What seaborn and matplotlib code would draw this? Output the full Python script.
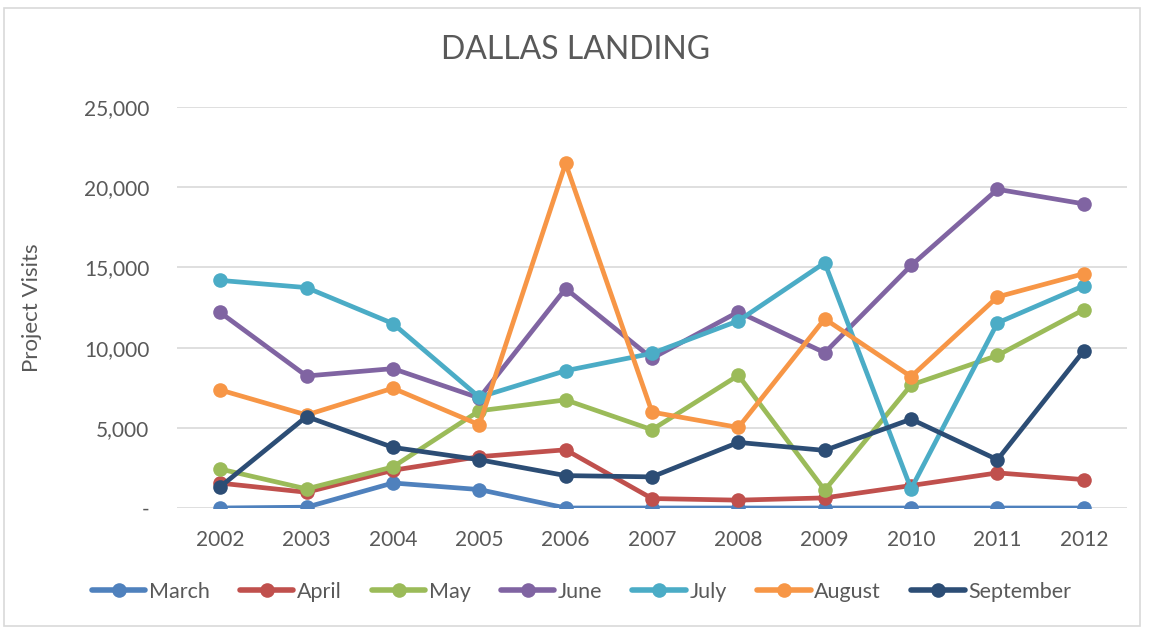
import numpy as np
import pandas as pd
import seaborn as sns
import matplotlib
matplotlib.use("Agg")
import matplotlib.pyplot as plt
from matplotlib.lines import Line2D
from matplotlib.patches import Rectangle
from matplotlib.ticker import FuncFormatter

years = [2002, 2003, 2004, 2005, 2006, 2007, 2008, 2009, 2010, 2011, 2012]
march = [0, 50, 1560, 1150, 0, 0, 0, 0, 0, 0, 0]
april = [1550, 980, 2350, 3200, 3630, 590, 490, 630, 1400, 2190, 1770]
may = [2430, 1190, 2560, 6060, 6740, 4880, 8270, 1110, 7670, 9510, 12370]
june = [12190, 8230, 8690, 6860, 13680, 9330, 12230, 9680, 15120, 19870, 18960]
july = [14190, 13740, 11500, 6910, 8560, 9640, 11670, 15290, 1190, 11540, 13860]
august = [7360, 5800, 7470, 5190, 21480, 5980, 5020, 11790, 8190, 13160, 14610]
september = [1320, 5700, 3780, 3010, 2020, 1940, 4090, 3590, 5540, 3010, 9800]

months = ["March", "April", "May", "June", "July", "August", "September"]
series = [march, april, may, june, july, august, september]
colors = ["#4F81BD", "#C0504D", "#9BBB59", "#8064A2", "#4BACC6", "#F79646", "#2C4D75"]

df = pd.DataFrame({
    "Year": np.tile(years, len(months)),
    "Month": np.repeat(months, len(years)),
    "Visits": np.concatenate(series),
})

sns.set_theme(style="white")
plt.rcParams["font.family"] = ["Lato", "DejaVu Sans"]

fig = plt.figure(figsize=(11.51, 6.28), dpi=100)
ax = fig.add_axes([177 / 1151, 1 - 508 / 628, (1127 - 177) / 1151, (508 - 107) / 628])

sns.lineplot(data=df, x="Year", y="Visits", hue="Month", hue_order=months,
             palette=colors, marker="o", markersize=10.5, linewidth=3.4,
             markeredgewidth=0, ax=ax, legend=False)

ax.set_xlim(2001.5, 2012.5)
ax.set_ylim(0, 25000)
ax.set_xticks(years)
ax.set_xticklabels([str(y) for y in years])
ax.set_yticks([0, 5000, 10000, 15000, 20000, 25000])
ax.yaxis.set_major_formatter(FuncFormatter(lambda v, p: "-" if v == 0 else f"{int(v):,}"))
ax.grid(axis="y", color="#d9d9d9", linewidth=1.2)
ax.set_axisbelow(True)
for s in ax.spines.values():
    s.set_visible(False)
ax.tick_params(axis="both", length=0, labelsize=15, colors="#595959")
ax.tick_params(axis="x", pad=16)
ax.tick_params(axis="y", pad=20)
ax.set_xlabel("")
ax.set_ylabel("Project Visits", fontsize=16, color="#595959")
ax.yaxis.set_label_coords(-0.142, 0.5)

fig.text(0.5, 1 - 50 / 628, "DALLAS LANDING", ha="center", va="center",
         fontsize=23, color="#595959")

handles = [Line2D([0], [0], color=c, linewidth=4, marker="o", markersize=10.5,
                  markeredgewidth=0) for c in colors]
fig.legend(handles, months, loc="center", bbox_to_anchor=(0.505, 1 - 592 / 628),
           ncol=7, frameon=False, fontsize=15.5, handlelength=2.5, handletextpad=0.15,
           columnspacing=1.4, labelcolor="#595959")

fig.patches.append(Rectangle((4 / 1151, 2 / 628), 1136 / 1151, 618 / 628,
                             transform=fig.transFigure, fill=False,
                             edgecolor="#d9d9d9", linewidth=1.2))

fig.savefig("out.png", dpi=100)
